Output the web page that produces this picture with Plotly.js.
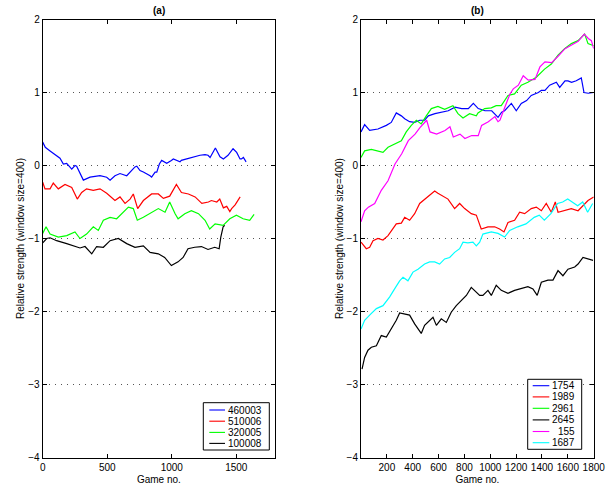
<!DOCTYPE html>
<html>
<head>
<meta charset="utf-8">
<script src="https://cdn.plot.ly/plotly-3.0.1.min.js"></script>
<style>html,body{margin:0;padding:0;background:#fff}#chart{width:611px;height:486px}</style>
</head>
<body>
<div id="chart"></div>
<script>
// ---------- Panel (a) ----------
const namesA = ['460003', '510006', '320005', '100008'];
const colorsA = ['#0000ff', '#ff0000', '#00ff00', '#000000'];

const gamesA_460003 = [0,20,57,95,134,160,186,225,250,263,290,315,367,431,444,496,522,560,599,651,677,690,715,729,754,780,806,832,844,871,884,904,922,961,997,1012,1064,1074,1116,1152,1168,1219,1258,1281,1297,1338,1374,1400,1436,1464,1475,1503,1529,1540,1555,1576];
const strengthA_460003 = [0.32,0.25,0.2,0.15,0.1,0.02,0.03,-0.05,0,-0.01,-0.12,-0.2,-0.16,-0.14,-0.14,-0.16,-0.2,-0.14,-0.11,-0.14,-0.09,-0.08,-0.02,-0.01,-0.07,-0.09,-0.11,-0.14,-0.16,-0.09,-0.09,0.02,0.07,0.03,0.07,0.09,0.05,0.07,0.09,0.11,0.11,0.14,0.15,0.14,0.11,0.24,0.12,0.09,0.14,0.21,0.23,0.18,0.09,0.09,0.11,0.05];

const gamesA_510006 = [0,18,57,82,121,173,225,268,302,340,392,444,496,560,599,638,677,702,736,780,844,896,935,984,1036,1075,1129,1152,1181,1233,1284,1307,1349,1372,1400,1426,1450,1464,1491,1530];
const strengthA_510006 = [-0.23,-0.32,-0.32,-0.24,-0.32,-0.26,-0.3,-0.46,-0.37,-0.32,-0.34,-0.32,-0.38,-0.48,-0.43,-0.52,-0.46,-0.39,-0.59,-0.48,-0.39,-0.39,-0.45,-0.42,-0.26,-0.37,-0.39,-0.41,-0.43,-0.52,-0.5,-0.48,-0.5,-0.46,-0.58,-0.56,-0.63,-0.59,-0.54,-0.43];

const gamesA_320005 = [0,26,57,121,186,250,289,340,392,431,470,522,573,625,664,702,733,780,832,896,948,984,1026,1049,1101,1152,1207,1258,1294,1336,1398,1450,1501,1553,1604,1638];
const strengthA_320005 = [-0.93,-0.84,-0.94,-0.98,-0.96,-0.91,-1.0,-0.94,-0.84,-0.89,-0.75,-0.71,-0.73,-0.64,-0.57,-0.59,-0.75,-0.71,-0.66,-0.59,-0.64,-0.5,-0.66,-0.73,-0.66,-0.62,-0.66,-0.75,-0.87,-0.8,-0.82,-0.73,-0.68,-0.73,-0.75,-0.67];

const gamesA_100008 = [0,31,57,108,186,237,289,328,380,418,470,522,586,651,715,780,832,896,945,997,1049,1088,1126,1178,1230,1281,1333,1367,1380,1398,1411];
const strengthA_100008 = [-1.06,-1.0,-0.99,-1.03,-1.07,-1.1,-1.13,-1.11,-1.21,-1.11,-1.12,-1.03,-1.0,-1.07,-1.12,-1.1,-1.19,-1.21,-1.26,-1.37,-1.32,-1.26,-1.14,-1.12,-1.11,-1.15,-1.12,-1.14,-0.98,-0.84,-0.82];

// ---------- Panel (b) ----------
const namesB = ['1754', '1989', '2961', '2645', '155', '1687'];
const colorsB = ['#0000ff', '#ff0000', '#00ff00', '#000000', '#ff00ff', '#00ffff'];

const gamesB_1754 = [0,28,67,131,196,234,273,312,338,376,415,454,492,521,572,624,675,727,779,830,869,907,959,1011,1060,1088,1111,1163,1201,1240,1281,1317,1372,1395,1423,1459,1511,1537,1578,1601,1629,1665,1704,1725,1758,1800];
const strengthB_1754 = [0.46,0.56,0.48,0.5,0.55,0.59,0.72,0.68,0.64,0.6,0.59,0.62,0.62,0.68,0.71,0.73,0.75,0.8,0.78,0.78,0.85,0.78,0.75,0.75,0.66,0.73,0.75,0.85,0.75,0.85,0.89,0.96,1.0,1.03,1.03,1.1,1.14,1.07,1.16,1.16,1.14,1.16,1.2,1.0,0.99,1.0];

const gamesB_1989 = [0,41,67,93,131,170,209,234,273,312,338,376,415,454,492,531,570,595,634,673,724,763,802,853,892,918,930,982,1034,1072,1106,1137,1188,1227,1266,1317,1356,1395,1433,1472,1503,1524,1575,1627,1679,1717,1756,1800];
const strengthB_1989 = [-1.05,-1.14,-1.12,-1.03,-1.0,-1.02,-0.96,-0.89,-0.8,-0.79,-0.71,-0.75,-0.66,-0.52,-0.46,-0.41,-0.35,-0.38,-0.42,-0.46,-0.59,-0.52,-0.59,-0.66,-0.68,-0.82,-0.87,-0.84,-0.84,-0.87,-0.91,-0.78,-0.75,-0.64,-0.66,-0.59,-0.57,-0.62,-0.52,-0.64,-0.5,-0.64,-0.62,-0.59,-0.62,-0.55,-0.48,-0.43];

const gamesB_2961 = [0,28,80,131,170,209,260,312,350,389,428,466,505,544,595,647,711,750,789,840,892,905,957,1008,1046,1085,1137,1188,1240,1291,1356,1420,1472,1524,1575,1627,1679,1730,1756,1800];
const strengthB_2961 = [0.11,0.2,0.22,0.2,0.18,0.25,0.3,0.34,0.46,0.55,0.62,0.57,0.68,0.78,0.81,0.77,0.82,0.71,0.65,0.71,0.68,0.72,0.78,0.79,0.82,0.82,0.96,0.98,1.1,1.14,1.21,1.32,1.39,1.51,1.6,1.67,1.71,1.8,1.67,1.64];

const gamesB_2645 = [8,28,54,80,119,157,196,234,273,299,338,376,415,441,466,492,531,557,583,621,660,698,737,776,815,853,892,918,943,982,1008,1046,1085,1137,1188,1240,1291,1330,1363,1395,1446,1485,1524,1562,1601,1653,1679,1717,1756,1795];
const strengthB_2645 = [-2.79,-2.63,-2.53,-2.49,-2.47,-2.33,-2.35,-2.24,-2.12,-2.02,-2.03,-2.05,-2.17,-2.24,-2.3,-2.19,-2.12,-2.08,-2.19,-2.1,-2.15,-2.01,-1.92,-1.85,-1.78,-1.67,-1.74,-1.78,-1.78,-1.71,-1.78,-1.64,-1.71,-1.75,-1.71,-1.69,-1.66,-1.69,-1.78,-1.6,-1.57,-1.57,-1.44,-1.51,-1.42,-1.39,-1.35,-1.26,-1.28,-1.3];

const gamesB_155 = [0,28,57,106,157,209,263,315,366,418,456,508,534,585,650,688,714,766,804,856,907,933,985,1036,1060,1075,1111,1152,1178,1217,1255,1294,1346,1384,1423,1475,1526,1578,1629,1680,1727,1758,1782,1800];
const strengthB_155 = [-0.77,-0.62,-0.57,-0.52,-0.34,-0.21,0.02,0.16,0.34,0.43,0.52,0.62,0.46,0.43,0.48,0.53,0.39,0.43,0.37,0.41,0.41,0.55,0.6,0.67,0.6,0.62,0.79,0.98,1.05,1.1,1.23,1.17,1.18,1.35,1.42,1.41,1.5,1.6,1.65,1.7,1.8,1.74,1.71,1.6];

const gamesB_1687 = [0,28,67,119,170,222,260,299,325,363,402,441,492,531,570,608,647,686,724,763,789,827,866,892,918,943,1008,1060,1111,1150,1212,1276,1340,1379,1418,1469,1521,1560,1599,1637,1676,1715,1753,1792];
const strengthB_1687 = [-2.24,-2.12,-2.05,-1.96,-1.92,-1.8,-1.69,-1.58,-1.53,-1.58,-1.46,-1.42,-1.35,-1.32,-1.32,-1.35,-1.28,-1.26,-1.19,-1.14,-1.05,-1.06,-1.05,-1.1,-1.05,-0.94,-0.91,-0.93,-0.98,-0.89,-0.84,-0.8,-0.71,-0.68,-0.75,-0.66,-0.52,-0.5,-0.46,-0.5,-0.55,-0.5,-0.64,-0.52];

// ---------- Tick labels ----------
const yTicks = [-4, -3, -2, -1, 0, 1, 2];
const xTicksA = [0, 500, 1000, 1500];
const xTicksB = [200, 400, 600, 800, 1000, 1200, 1400, 1600, 1800];

const seriesA = [
  [gamesA_460003, strengthA_460003],
  [gamesA_510006, strengthA_510006],
  [gamesA_320005, strengthA_320005],
  [gamesA_100008, strengthA_100008]
];
const seriesB = [
  [gamesB_1754, strengthB_1754],
  [gamesB_1989, strengthB_1989],
  [gamesB_2961, strengthB_2961],
  [gamesB_2645, strengthB_2645],
  [gamesB_155, strengthB_155],
  [gamesB_1687, strengthB_1687]
];

const W = 611, H = 486;
const px = v => v / W;
const py = v => 1 - v / H;
const FONT = 'Liberation Sans, Arial, sans-serif';

const traces = [];
seriesA.forEach((s, i) => traces.push({
  x: s[0], y: s[1], name: namesA[i], type: 'scatter', mode: 'lines',
  line: {color: colorsA[i], width: 1.2}, xaxis: 'x', yaxis: 'y', showlegend: false
}));
seriesB.forEach((s, i) => traces.push({
  x: s[0], y: s[1], name: namesB[i], type: 'scatter', mode: 'lines',
  line: {color: colorsB[i], width: 1.2}, xaxis: 'x2', yaxis: 'y2', showlegend: false
}));

function xAxis(domain, ticks, anchor) {
  return {
    domain: domain, range: [0, 1800], anchor: anchor,
    tickmode: 'array', tickvals: ticks, ticktext: ticks.map(String),
    ticks: 'inside', ticklen: 4, tickcolor: '#000', tickwidth: 1,
    showline: true, linecolor: '#000', linewidth: 1, mirror: 'ticks',
    showgrid: false, zeroline: false,
    tickfont: {family: FONT, size: 10, color: '#000'},
    title: {text: 'Game no.', font: {family: FONT, size: 10, color: '#000'}, standoff: 4},
    automargin: false, fixedrange: true
  };
}
function yAxis(domain, anchor) {
  return {
    domain: domain, range: [-4, 2], anchor: anchor,
    tickmode: 'array', tickvals: yTicks, ticktext: yTicks.map(v => v < 0 ? '\u2212' + (-v) : String(v)),
    ticks: 'inside', ticklen: 4, tickcolor: '#000', tickwidth: 1,
    showline: true, linecolor: '#000', linewidth: 1, mirror: 'ticks',
    showgrid: true, gridcolor: '#555', gridwidth: 1, griddash: '1px,5px',
    zeroline: false,
    tickfont: {family: FONT, size: 10, color: '#000'},
    title: {text: 'Relative strength (window size=400)', font: {family: FONT, size: 10, color: '#000'}, standoff: 1},
    automargin: false, fixedrange: true
  };
}

const yDom = [1 - 457.5 / H, 1 - 19.5 / H];
const layout = {
  width: W, height: H,
  margin: {l: 0, r: 0, t: 0, b: 0},
  paper_bgcolor: '#fff', plot_bgcolor: '#fff',
  showlegend: false,
  xaxis: xAxis([px(42.7), px(275)], xTicksA, 'y'),
  yaxis: yAxis(yDom, 'x'),
  xaxis2: xAxis([px(361), px(593.7)], xTicksB, 'y2'),
  yaxis2: yAxis(yDom, 'x2'),
  shapes: [], annotations: []
};

// subplot titles
layout.annotations.push({text: '<b>(a)</b>', x: px(158.8), y: py(10), xref: 'paper', yref: 'paper', showarrow: false,
  font: {family: FONT, size: 10, color: '#000'}, xanchor: 'center', yanchor: 'middle'});
layout.annotations.push({text: '<b>(b)</b>', x: px(477.3), y: py(10), xref: 'paper', yref: 'paper', showarrow: false,
  font: {family: FONT, size: 10, color: '#000'}, xanchor: 'center', yanchor: 'middle'});

// legends drawn as boxes with line samples
function legend(names, colors, box, rows, lineX, textRight) {
  layout.shapes.push({type: 'rect', xref: 'paper', yref: 'paper',
    x0: px(box[0]), x1: px(box[1]), y0: py(box[2]), y1: py(box[3]),
    line: {color: '#000', width: 1}, fillcolor: '#fff', layer: 'above'});
  names.forEach((n, i) => {
    layout.shapes.push({type: 'line', xref: 'paper', yref: 'paper',
      x0: px(lineX[0]), x1: px(lineX[1]), y0: py(rows[i]), y1: py(rows[i]),
      line: {color: colors[i], width: 1.1}, layer: 'above'});
    layout.annotations.push({text: n, x: px(textRight), y: py(rows[i]), xref: 'paper', yref: 'paper',
      showarrow: false, xanchor: 'right', yanchor: 'middle',
      font: {family: FONT, size: 10, color: '#000'}});
  });
}
legend(namesA, colorsA, [203.3, 269.3, 402.7, 450], [410, 421.2, 432.4, 443.4], [209.3, 225], 263.5);
legend(namesB, colorsB, [527.7, 581.7, 379.3, 449.3], [385.7, 396.9, 408.3, 419.9, 431.5, 442.7], [532.7, 549.3], 577);

Plotly.newPlot('chart', traces, layout, {staticPlot: true, displayModeBar: false});
</script>
</body>
</html>
